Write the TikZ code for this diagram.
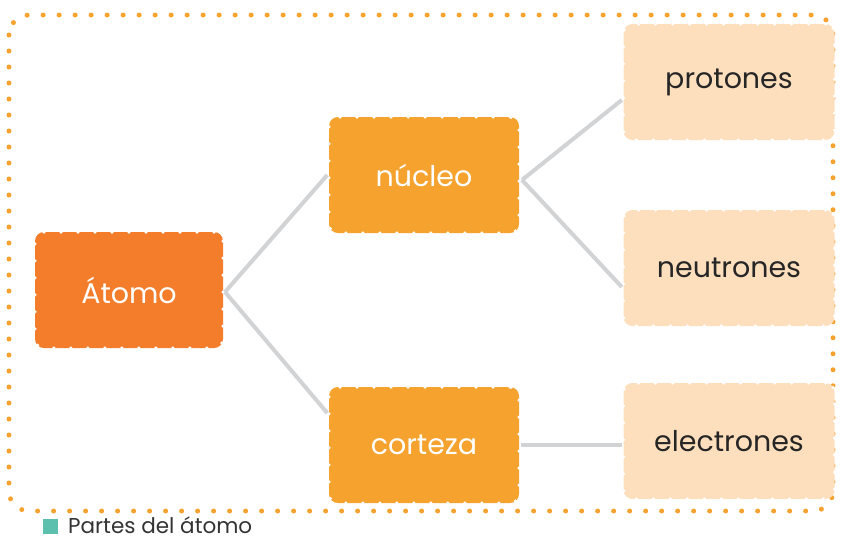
\documentclass[tikz,border=0pt]{standalone}
\usepackage{fontspec}
\setmainfont{Poppins}
\usetikzlibrary{positioning}

\definecolor{atomorange}{HTML}{F47D2C}
\definecolor{partorange}{HTML}{F6A22F}
\definecolor{subpeach}{HTML}{FDDFBD}
\definecolor{linkgray}{HTML}{D2D3D5}
\definecolor{legendteal}{HTML}{5BC0AE}
\definecolor{captiongray}{HTML}{333333}

\begin{document}
\begin{tikzpicture}[
    x=1pt, y=-1pt,
    conceptbox/.style={
        rectangle,
        rounded corners=9pt,
        draw=white,
        line width=3.5pt,
        line cap=round,
        dash pattern=on 0pt off 17pt,
        inner sep=0pt,
        minimum height=116pt},
    rootbox/.style={
        conceptbox,
        fill=atomorange,
        text=white,
        minimum width=188pt,
        font=\fontsize{28.5}{32}\selectfont},
    partbox/.style={
        conceptbox,
        fill=partorange,
        text=white,
        minimum width=190pt,
        font=\fontsize{28.5}{32}\selectfont},
    leafbox/.style={
        conceptbox,
        fill=subpeach,
        text=black!85,
        minimum width=211pt,
        font=\fontsize{28.5}{32}\selectfont},
    link/.style={-,draw=linkgray,line width=4pt},
    frameline/.style={
        draw=partorange,
        line width=5pt,
        line cap=round,
        dash pattern=on 0pt off 16pt,
        rounded corners=20pt}
]
\useasboundingbox (0,0) rectangle (842,542);

% outer dotted frame
\draw[frameline] (9,15) rectangle (833,511);

% boxes
\node[rootbox] (atomo) at (129,290) {Átomo};
\node[partbox] (nucleo) at (424,175) {núcleo};
\node[partbox] (corteza) at (424,445) {corteza};
\node[leafbox] (protones) at (729,82) {protones};
\node[leafbox] (neutrones) at (729,268) {neutrones};
\node[leafbox] (electrones) at (729,441) {electrones};

% branch points
\coordinate (atomofork) at (225,292);
\coordinate (nucleofork) at (522,180);

\path
    (atomofork) edge [link] (nucleo.west)
    (atomofork) edge [link] (corteza.north west |- 0,413)
    (nucleofork) edge [link] (protones.west |- 0,100)
    (nucleofork) edge [link] (neutrones.west |- 0,287)
    (corteza.east) edge [link] (electrones.west |- corteza.east);

% caption
\node[fill=legendteal, inner sep=0pt, minimum size=15pt, anchor=north west] (legendbox) at (43,519) {};
\node[anchor=base west, inner sep=0pt, text=captiongray, font=\fontsize{21.5}{25}\selectfont] (caption) at (68,533) {Partes del átomo};
\end{tikzpicture}
\end{document}
